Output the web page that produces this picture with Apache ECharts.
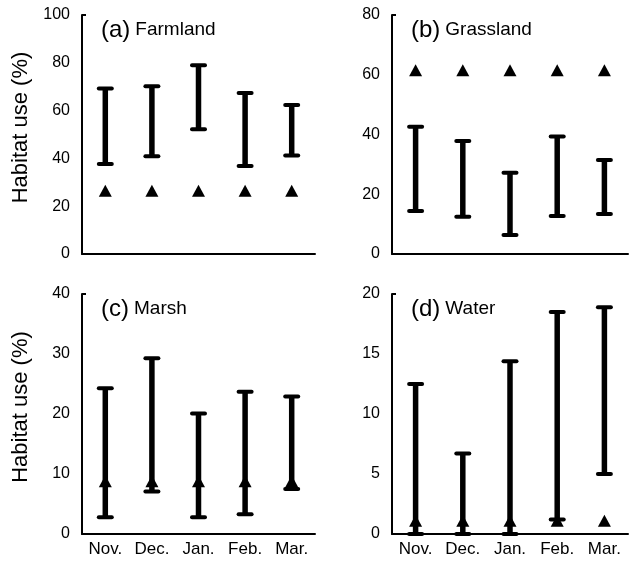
<!DOCTYPE html>
<html>
<head>
<meta charset="utf-8">
<script src="https://cdn.jsdelivr.net/npm/echarts@6/dist/echarts.min.js"></script>
<style>
  html, body { margin: 0; padding: 0; background: #fff; }
  #chart { width: 629px; height: 564px; }
</style>
</head>
<body>
<div id="chart"></div>
<script>
// 月份
const months = ['Nov.', 'Dec.', 'Jan.', 'Feb.', 'Mar.'];

// (a) Farmland
const farmLow = [37.7, 40.9, 52.2, 36.8, 41.2];
const farmHigh = [69.2, 70.2, 79.0, 67.4, 62.3];
const farmMark = [26.5, 26.5, 26.5, 26.5, 26.5];

// (b) Grassland
const grassLow = [14.4, 12.5, 6.4, 12.7, 13.4];
const grassHigh = [42.6, 37.8, 27.2, 39.3, 31.5];
const grassMark = [61.5, 61.5, 61.5, 61.5, 61.5];

// (c) Marsh
const marshLow = [2.8, 7.1, 2.8, 3.3, 7.5];
const marshHigh = [24.3, 29.3, 20.1, 23.7, 22.9];
const marshMark = [8.8, 8.8, 8.8, 8.8, 8.8];

// (d) Water
const waterLow = [0, 0, 0, 1.2, 5.0];
const waterHigh = [12.5, 6.7, 14.4, 18.5, 18.9];
const waterMark = [1.1, 1.1, 1.1, 1.1, 1.1];

const yMax = [100, 80, 40, 20];
const yStep = [20, 20, 10, 5];
const titles = [['(a)', 'Farmland'], ['(b)', 'Grassland'], ['(c)', 'Marsh'], ['(d)', 'Water']];

const panels = [
  { low: farmLow, high: farmHigh, mark: farmMark },
  { low: grassLow, high: grassHigh, mark: grassMark },
  { low: marshLow, high: marshHigh, mark: marshMark },
  { low: waterLow, high: waterHigh, mark: waterMark }
];

const FONT = 'Liberation Sans, Arial, sans-serif';

const grids = [
  { left: 82, top: 15, width: 233, height: 239 },
  { left: 392, top: 15, width: 236, height: 239 },
  { left: 82, top: 294, width: 233, height: 240 },
  { left: 392, top: 294, width: 236, height: 240 }
];

// 误差线：竖线 + 上下横帽
function renderErrorBar(params, api) {
  const x = api.value(0);
  const lo = api.coord([x, api.value(1)]);
  const hi = api.coord([x, api.value(2)]);
  const capW = 6.5;
  const style = { stroke: '#000', lineWidth: 5.5 };
  const capStyle = { stroke: '#000', lineWidth: 4, lineCap: 'round' };
  return {
    type: 'group',
    children: [
      { type: 'line', shape: { x1: lo[0], y1: lo[1], x2: hi[0], y2: hi[1] }, style: style },
      { type: 'line', shape: { x1: hi[0] - capW, y1: hi[1], x2: hi[0] + capW, y2: hi[1] }, style: capStyle },
      { type: 'line', shape: { x1: lo[0] - capW, y1: lo[1], x2: lo[0] + capW, y2: lo[1] }, style: capStyle }
    ]
  };
}

const xAxes = [], yAxes = [], series = [], titleList = [];
panels.forEach((p, i) => {
  const bottomRow = i >= 2;
  xAxes.push({
    type: 'category',
    gridIndex: i,
    data: months,
    axisLine: { lineStyle: { color: '#000', width: 2 } },
    axisTick: { show: false },
    axisLabel: { show: bottomRow, color: '#000', fontSize: 17, fontFamily: FONT, margin: 7 }
  });
  yAxes.push({
    type: 'value',
    gridIndex: i,
    min: 0,
    max: yMax[i],
    interval: yStep[i],
    name: i % 2 === 0 ? 'Habitat use (%)' : '',
    nameLocation: 'middle',
    nameGap: 50,
    nameTextStyle: { color: '#000', fontSize: 22, fontFamily: FONT, padding: [0, 0, 0, 14] },
    axisLine: { show: true, lineStyle: { color: '#000', width: 2 } },
    axisTick: { show: true, inside: true, length: 4, customValues: [yMax[i]], lineStyle: { color: '#000', width: 2 } },
    axisLabel: { color: '#000', fontSize: 16, fontFamily: FONT, margin: 12 },
    splitLine: { show: false }
  });
  series.push({
    type: 'custom',
    xAxisIndex: i,
    yAxisIndex: i,
    renderItem: renderErrorBar,
    data: months.map((m, k) => [k, p.low[k], p.high[k]]),
    z: 2
  });
  series.push({
    type: 'scatter',
    xAxisIndex: i,
    yAxisIndex: i,
    symbol: 'triangle',
    symbolSize: [13, 12],
    itemStyle: { color: '#000', opacity: 1 },
    data: p.mark,
    z: 3
  });
  titleList.push({
    left: grids[i].left + 14,
    top: grids[i].top - 2,
    text: '{a|' + titles[i][0] + '} {b|' + titles[i][1] + '}',
    textStyle: {
      fontWeight: 'normal',
      rich: {
        a: { fontSize: 24, fontFamily: FONT, color: '#000', fontWeight: 'normal' },
        b: { fontSize: 19, fontFamily: FONT, color: '#000', fontWeight: 'normal' }
      }
    }
  });
});

const chart = echarts.init(document.getElementById('chart'));
chart.setOption({
  animation: false,
  backgroundColor: '#fff',
  title: titleList,
  grid: grids,
  xAxis: xAxes,
  yAxis: yAxes,
  series: series
});
</script>
</body>
</html>
